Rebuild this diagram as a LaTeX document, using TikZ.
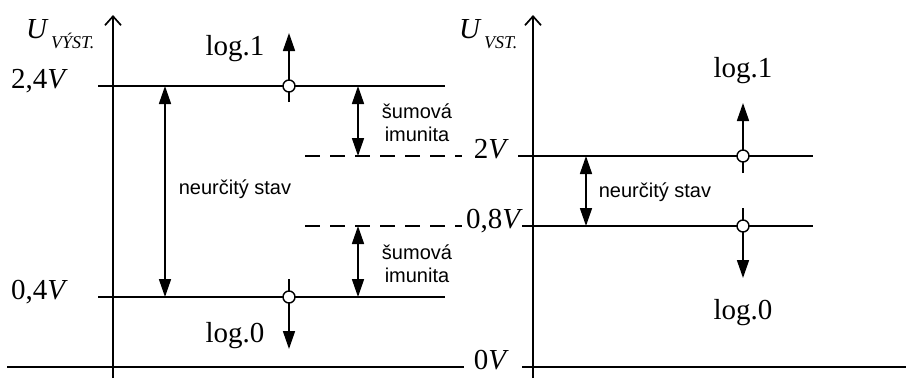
\documentclass[tikz,border=0pt]{standalone}
\usepackage{fontspec}
\setmainfont{Liberation Serif}
\setsansfont{Liberation Sans}
\usetikzlibrary{arrows.meta}

\newcommand{\usub}[1]{{\itshape U}\hspace{4pt}\raisebox{-10pt}{\fontsize{18}{18}\selectfont\itshape #1}}

\tikzset{
  level/.style={line width=1.7pt},
  limit/.style={line width=1.7pt, dash pattern=on 15pt off 10pt},
  span/.style={line width=1.7pt, {Triangle[length=18pt,width=12pt]}-{Triangle[length=18pt,width=12pt]}},
  state/.style={line width=1.7pt, -{Triangle[length=18pt,width=12pt]}},
  axis/.style={line width=1.7pt, -{Straight Barb[length=9pt,width=16pt]}},
  dot/.style={circle, draw, fill=white, line width=1.4pt, inner sep=0pt, minimum size=12pt},
  volt/.style={font=\fontsize{29}{29}\selectfont, inner sep=0pt, anchor=mid east},
  logic/.style={font=\fontsize{29}{29}\selectfont, inner sep=0pt, anchor=base},
  note/.style={font=\sffamily\fontsize{20}{23}\selectfont, align=center, inner sep=0pt},
}

\begin{document}
\begin{tikzpicture}[x=1pt,y=-1pt]
\useasboundingbox (0,0) rectangle (906,378);

% output levels
\coordinate (ya0) at (113,378);
\coordinate (ya1) at (113,15);
\draw[axis] (ya0) -- (ya1);
\node[anchor=base west, font=\fontsize{29}{29}\selectfont, inner sep=0pt] (uout) at (26,38) {\usub{VÝST.}};

\node[volt] (v24) at (68,86) {2,4\textit{V}};
\node[volt] (v04) at (68,297) {0,4\textit{V}};
\node[volt] (v0) at (509,367) {0\textit{V}};

\coordinate (hiL) at (98,86);
\coordinate (hiR) at (445,86);
\coordinate (loL) at (98,297);
\coordinate (loR) at (445,297);
\draw[level] (hiL) -- (hiR);
\draw[level] (loL) -- (loR);

\coordinate (ihL) at (305,156);
\coordinate (ihR) at (462,156);
\coordinate (ilL) at (305,226);
\coordinate (ilR) at (462,226);
\draw[limit] (ihL) -- (ihR);
\draw[limit] (ilL) -- (ilR);

\coordinate (b0L) at (7,367);
\coordinate (b0R) at (464,367);
\draw[level] (b0L) -- (b0R);

% neurcity stav
\coordinate (nA) at (165,86);
\coordinate (nB) at (165,297);
\draw[span] (nA) -- (nB);
\node[note] (nout) at (235,189) {neurčitý stav};

% sumova imunita
\coordinate (sA) at (358,86);
\coordinate (sB) at (358,156);
\draw[span] (sA) -- (sB);
\node[note] (sh) at (417,123) {šumová\\imunita};
\coordinate (sC) at (358,226);
\coordinate (sD) at (358,297);
\draw[span] (sC) -- (sD);
\node[note] (sl) at (417,264) {šumová\\imunita};

% log. stavy
\coordinate (o1s) at (289,102);
\coordinate (o1e) at (289,33);
\draw[state] (o1s) -- (o1e);
\node[dot] (o1) at (289,86) {};
\node[logic] (lo1) at (235,55) {log.1};
\coordinate (o0s) at (289,279);
\coordinate (o0e) at (289,349);
\draw[state] (o0s) -- (o0e);
\node[dot] (o0) at (289,297) {};
\node[logic] (lo0) at (235,342) {log.0};

% input levels
\coordinate (yb0) at (533,378);
\coordinate (yb1) at (533,15);
\draw[axis] (yb0) -- (yb1);
\node[anchor=base west, font=\fontsize{29}{29}\selectfont, inner sep=0pt] (uin) at (459,38) {\usub{VST.}};

\node[volt] (v2) at (509,156) {2\textit{V}};
\node[volt] (v08) at (523,226) {0,8\textit{V}};

\coordinate (h2L) at (518,156);
\coordinate (h2R) at (813,156);
\coordinate (l2L) at (522,226);
\coordinate (l2R) at (813,226);
\draw[level] (h2L) -- (h2R);
\draw[level] (l2L) -- (l2R);

\coordinate (b1L) at (522,367);
\coordinate (b1R) at (906,367);
\draw[level] (b1L) -- (b1R);

\coordinate (mA) at (586,156);
\coordinate (mB) at (586,226);
\draw[span] (mA) -- (mB);
\node[note] (nin) at (655,192) {neurčitý stav};

\coordinate (i1s) at (743,173);
\coordinate (i1e) at (743,103);
\draw[state] (i1s) -- (i1e);
\node[dot] (i1) at (743,156) {};
\node[logic] (li1) at (743,77) {log.1};
\coordinate (i0s) at (743,208);
\coordinate (i0e) at (743,278);
\draw[state] (i0s) -- (i0e);
\node[dot] (i0) at (743,226) {};
\node[logic] (li0) at (743,319) {log.0};
\end{tikzpicture}
\end{document}
